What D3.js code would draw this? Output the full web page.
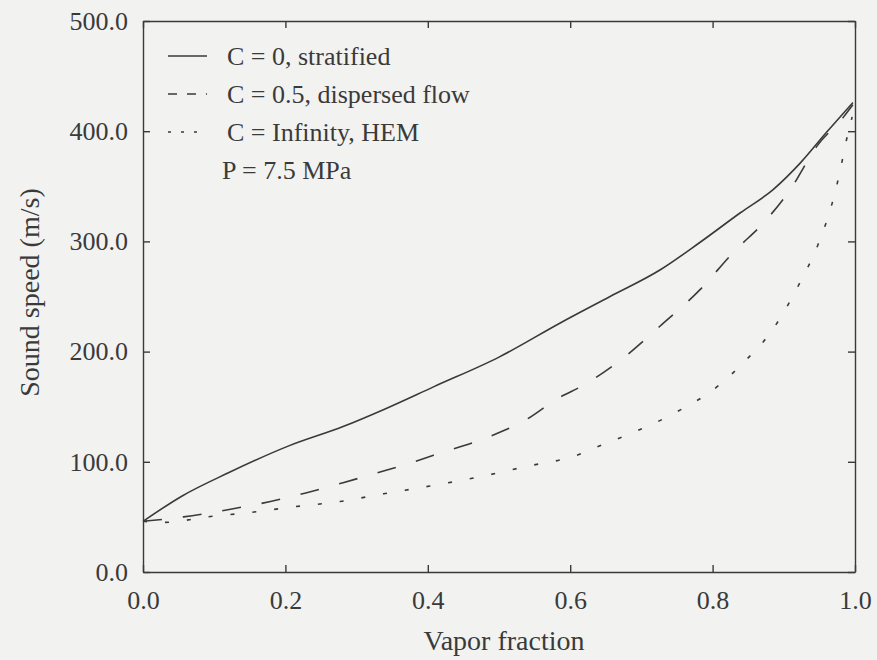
<!DOCTYPE html>
<html>
<head>
<meta charset="utf-8">
<script src="https://cdn.jsdelivr.net/npm/d3@7"></script>
<style>
  body { margin: 0; background: #f2f2f1; }
  svg { display: block; }
  text { font-family: "Times New Roman", "Liberation Serif", "DejaVu Serif", "Noto Serif", serif; fill: #3a3a3a; }
</style>
</head>
<body>
<svg class="chart"></svg>
<script>
const width = 877,
  height = 660,
  ink = "#3a3a3a",
  serif = "'Times New Roman', 'Liberation Serif', 'DejaVu Serif', 'Noto Serif', serif";

// vapor fraction / sound speed (m/s)
const stratifiedX = [0, 0.055, 0.12, 0.203, 0.281, 0.34, 0.408, 0.5, 0.586, 0.656, 0.726, 0.782, 0.839, 0.885, 0.923, 0.96, 0.997];
const stratifiedY = [46, 69, 90, 114, 132, 148, 168, 195, 226, 250, 274, 299, 326, 347, 371, 399, 426];

const dispersedX = [0, 0.057, 0.123, 0.179, 0.23, 0.281, 0.329, 0.371, 0.408, 0.483, 0.54, 0.581, 0.62, 0.68, 0.726, 0.782, 0.829, 0.876, 0.909, 0.946, 0.984, 0.997];
const dispersedY = [46, 50, 57, 64, 72, 81, 90, 98, 106, 122, 139, 157, 170, 197, 223, 256, 290, 320, 347, 386, 413, 424];

const hemX = [0, 0.03, 0.09, 0.15, 0.21, 0.277, 0.338, 0.403, 0.47, 0.54, 0.605, 0.647, 0.69, 0.743, 0.81, 0.848, 0.881, 0.923, 0.948, 0.962, 0.973, 0.981, 0.988, 0.996];
const hemY = [46, 45, 50, 54, 59, 64, 71, 78, 86, 96, 105, 116, 127, 143, 170, 193, 217, 263, 297, 322, 347, 370, 392, 413];

const xTicks = [0, 0.2, 0.4, 0.6, 0.8, 1.0];
const yTicks = [0, 100, 200, 300, 400, 500];

const legendLabels = ["C = 0, stratified", "C = 0.5, dispersed flow", "C = Infinity, HEM"];
const legendDash = [null, "9,10", "3,10"];
const note = "P = 7.5 MPa";

const margin = { top: 21, right: 22, bottom: 88, left: 143 };

var chart = d3.select(".chart")
  .attr("width", width)
  .attr("height", height);

var x = d3.scaleLinear().domain([0, 1]).range([margin.left, width - margin.right]);
var y = d3.scaleLinear().domain([0, 500]).range([height - margin.bottom, margin.top]);

let fmt = d3.format(".1f");

// frame with inward ticks on all four sides
let bottomAxis = d3.axisBottom(x).tickValues(xTicks).tickFormat(fmt).tickSizeInner(-7).tickSizeOuter(0).tickPadding(19);
let topAxis = d3.axisTop(x).tickValues(xTicks).tickFormat("").tickSizeInner(-7).tickSizeOuter(0);
let leftAxis = d3.axisLeft(y).tickValues(yTicks).tickFormat(fmt).tickSizeInner(-7).tickSizeOuter(0).tickPadding(15);
let rightAxis = d3.axisRight(y).tickValues(yTicks).tickFormat("").tickSizeInner(-7).tickSizeOuter(0);

function styleAxis(g) {
  g.attr("font-family", null);
  g.selectAll("path, line").attr("stroke", ink).attr("stroke-width", 1.4);
  g.selectAll("text")
    .attr("fill", ink)
    .style("font-family", serif)
    .style("font-size", "26px");
}

chart.append("g").attr("transform", `translate(0, ${y(0)})`).call(bottomAxis).call(styleAxis);
chart.append("g").attr("transform", `translate(0, ${y(500)})`).call(topAxis).call(styleAxis);
chart.append("g").attr("transform", `translate(${x(0)}, 0)`).call(leftAxis).call(styleAxis);
chart.append("g").attr("transform", `translate(${x(1)}, 0)`).call(rightAxis).call(styleAxis);

// axis titles
chart.append("text")
  .attr("x", (x(0) + x(1)) / 2 + 5)
  .attr("y", 650)
  .attr("text-anchor", "middle")
  .style("font-size", "28px")
  .text("Vapor fraction");

chart.append("text")
  .attr("transform", `translate(39, ${(y(0) + y(500)) / 2 - 4}) rotate(-90)`)
  .attr("text-anchor", "middle")
  .style("font-size", "28px")
  .text("Sound speed (m/s)");

// curves
const series = [
  { xs: stratifiedX, ys: stratifiedY, dash: null },
  { xs: dispersedX, ys: dispersedY, dash: "19,21" },
  { xs: hemX, ys: hemY, dash: "4,18" }
];

let line = d3.line()
  .x(d => x(d[0]))
  .y(d => y(d[1]))
  .curve(d3.curveMonotoneX);

chart.append("g").selectAll("path")
  .data(series)
  .enter().append("path")
  .attr("d", s => line(d3.zip(s.xs, s.ys)))
  .attr("fill", "none")
  .attr("stroke", ink)
  .attr("stroke-width", 1.6)
  .attr("stroke-dasharray", s => s.dash);

// legend
let legend = chart.append("g").selectAll("g")
  .data(legendLabels)
  .enter().append("g")
  .attr("transform", (d, i) => `translate(168, ${56 + i * 38})`);

legend.append("line")
  .attr("x1", 0)
  .attr("x2", 39)
  .attr("stroke", ink)
  .attr("stroke-width", 1.4)
  .attr("stroke-dasharray", (d, i) => legendDash[i]);

legend.append("text")
  .attr("x", 59)
  .attr("dy", "0.35em")
  .style("font-size", "26px")
  .text(d => d);

chart.append("text")
  .attr("x", 222)
  .attr("y", 170)
  .attr("dy", "0.35em")
  .style("font-size", "26px")
  .text(note);
</script>
</body>
</html>
